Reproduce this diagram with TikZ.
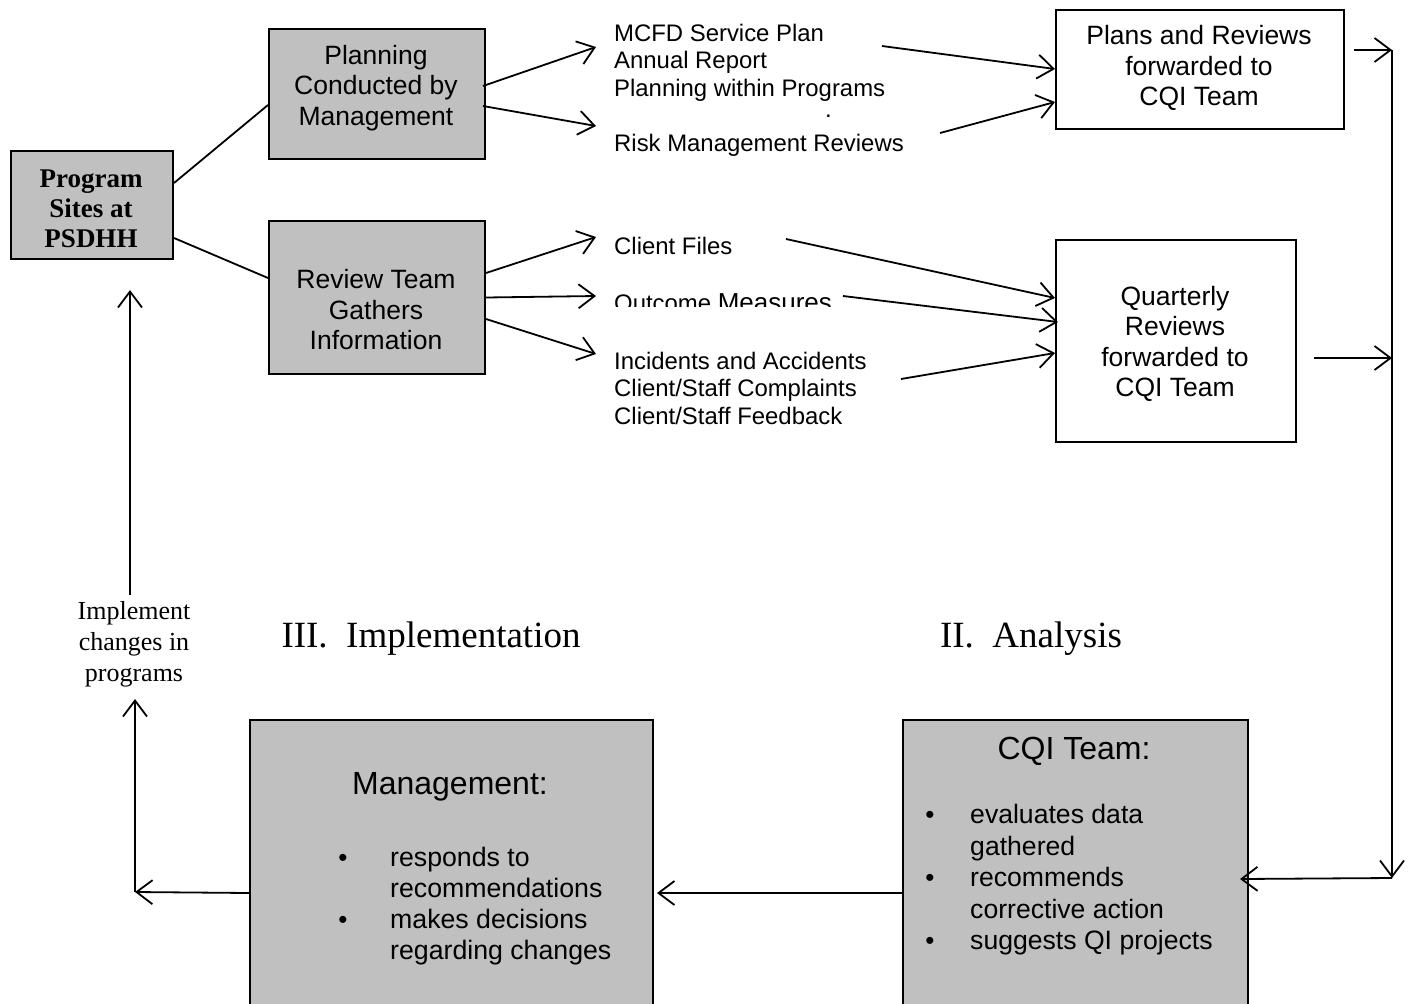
\documentclass[tikz,border=0pt]{standalone}
\usepackage{fontspec}
\setmainfont{Liberation Serif}
\newfontfamily\arial{Liberation Sans}
\usetikzlibrary{arrows.meta}
\definecolor{boxgray}{RGB}{192,192,192}
\begin{document}
\begin{tikzpicture}[x=1pt,y=-1pt,
  box/.style={draw, line width=2pt, inner sep=0pt, anchor=north west},
  graybox/.style={box, fill=boxgray},
  ln/.style={line width=1.8pt},
  arr/.style={line width=1.8pt, -{Straight Barb[length=16pt,width=24pt,line width=1.8pt]}},
  bt/.style={font=\arial\fontsize{26.5}{30.5}\selectfont, align=center, inner sep=0pt, yshift=-2pt},
  hd/.style={font=\arial\fontsize{32}{36}\selectfont, inner sep=0pt, yshift=-2pt},
  lt/.style={font=\arial\fontsize{23.9}{27.5}\selectfont, align=left, anchor=west, inner sep=0pt, yshift=-2pt},
  st/.style={font=\fontsize{26}{31}\selectfont, align=center, inner sep=0pt, yshift=-1pt},
  sec/.style={font=\fontsize{37}{40}\selectfont, inner sep=0pt, yshift=-2pt},
  bul/.style={font=\arial\fontsize{26}{30}\selectfont, inner sep=0pt, yshift=-2pt},
]
\clip (0,0) rectangle (1411,1004);
\fill[white] (0,0) rectangle (1411,1004);

% boxes
\node[graybox, minimum width=162pt, minimum height=108pt] (prog) at (10,150) {};
\node[font=\bfseries\fontsize{27}{30}\selectfont, align=center, inner sep=0pt, yshift=-1pt] (progtxt) at (91,208) {Program\\Sites at\\PSDHH};

\node[graybox, minimum width=216pt, minimum height=130pt] (plan) at (268,28) {};
\node[bt] (plantxt) at (376,86) {Planning\\Conducted by\\Management};

\node[graybox, minimum width=216pt, minimum height=153pt] (rev) at (268,220) {};
\node[bt] (revtxt) at (376,308) {Review Team\\Gathers\\Information};

\node[box, minimum width=288pt, minimum height=119pt] (plans) at (1055,9) {};
\node[bt] (planstxt) at (1199,66) {Plans and Reviews\\forwarded to\\CQI Team};

\node[box, minimum width=240pt, minimum height=202pt] (quart) at (1055,239) {};
\node[bt] (quarttxt) at (1175,342) {Quarterly\\Reviews\\forwarded to\\CQI Team};

\node[graybox, minimum width=345pt, minimum height=294pt] (cqi) at (902,719) {};
\node[hd] (cqihead) at (1074,749) {CQI Team:};
\node[bt, align=left, anchor=west, font=\arial\fontsize{26.6}{31.5}\selectfont] (cqilist) at (970,878) {evaluates data\\gathered\\recommends\\corrective action\\suggests QI projects};
\node[bul] (cb1) at (930,815) {•};
\node[bul] (cb2) at (930,878) {•};
\node[bul] (cb3) at (930,941) {•};

\node[graybox, minimum width=403pt, minimum height=294pt] (mgmt) at (249,719) {};
\node[hd] (mgmthead) at (450,785) {Management:};
\node[bt, align=left, anchor=west, font=\arial\fontsize{26.7}{31}\selectfont] (mgmtlist) at (390,904.5) {responds to\\recommendations\\makes decisions\\regarding changes};
\node[bul] (mb1) at (343,858) {•};
\node[bul] (mb2) at (343,920) {•};

% lists
\node[lt] (listA) at (614,60.5) {MCFD Service Plan\\Annual Report\\Planning within Programs};
\node[lt] (dot) at (825,114) {.};
\node[lt] (risk) at (614,143) {Risk Management Reviews};
\node[lt] (cfiles) at (614,244) {Client Files};
\begin{scope}
  \clip (600,280) rectangle (900,306.5);
  \node[lt, anchor=base west, yshift=0pt] (outcome) at (614,309) {Outcome {\fontsize{26}{28}\selectfont Measures}};
\end{scope}
\node[lt] (incid) at (614,386) {Incidents and Accidents\\Client/Staff Complaints\\Client/Staff Feedback};

% section labels
\node[sec] (impl) at (431,637) {III.\ \ Implementation};
\node[sec] (anal) at (1031,637) {II.\ \ Analysis};
\node[st] (impltxt) at (134,643) {Implement\\changes in\\programs};

% coordinates
\coordinate (hA) at (596,47);
\coordinate (hB) at (596,126);
\coordinate (hC) at (596,237);
\coordinate (hD) at (596,296);
\coordinate (hE) at (596,354);
\coordinate (sA) at (882,46);
\coordinate (sB) at (940,133);
\coordinate (sC) at (786,239);
\coordinate (sD) at (843,296);
\coordinate (sE) at (901,379);
\coordinate (r0) at (1354,50);
\coordinate (r1) at (1392,50);
\coordinate (q0) at (1314,358);
\coordinate (q1) at (1392,358);
\coordinate (r2) at (1392,878);
\coordinate (l1) at (135,892);
\coordinate (l2) at (135,699);
\coordinate (u1) at (130,595);
\coordinate (u2) at (130,290);

% connectors
\draw[ln] ([yshift=22pt]prog.east) -- ([yshift=-11pt]plan.west);
\draw[ln] ([yshift=-33pt]prog.east) -- ([yshift=19.5pt]rev.west);
\draw[arr] ([xshift=-3pt,yshift=8pt]plan.east) -- (hA);
\draw[arr] ([xshift=-3pt,yshift=-12pt]plan.east) -- (hB);
\draw[arr] ([yshift=24.5pt]rev.east) -- (hC);
\draw[arr] (rev.east) -- (hD);
\draw[arr] ([yshift=-21.5pt]rev.east) -- (hE);
\draw[arr] (sA) -- ([yshift=0.5pt]plans.west);
\draw[arr] (sB) -- ([yshift=-32.5pt]plans.west);
\draw[arr] (sC) -- ([yshift=43pt]quart.west);
\draw[arr] (sD) -- ([xshift=3pt,yshift=19pt]quart.west);
\draw[arr] (sE) -- ([yshift=-12pt]quart.west);
\draw[arr] (r0) -- (r1);
\draw[arr] (q0) -- (q1);
\draw[arr] (r1) -- (r2);
\draw[arr] (r2) -- ([xshift=-9pt,yshift=-12pt]cqi.east);
\draw[arr] ([yshift=-26pt]cqi.west) -- ([xshift=3pt,yshift=-26pt]mgmt.east);
\draw[arr] ([yshift=-26pt]mgmt.west) -- (l1);
\draw[arr] (l1) -- (l2);
\draw[arr] (u1) -- (u2);
\end{tikzpicture}
\end{document}
